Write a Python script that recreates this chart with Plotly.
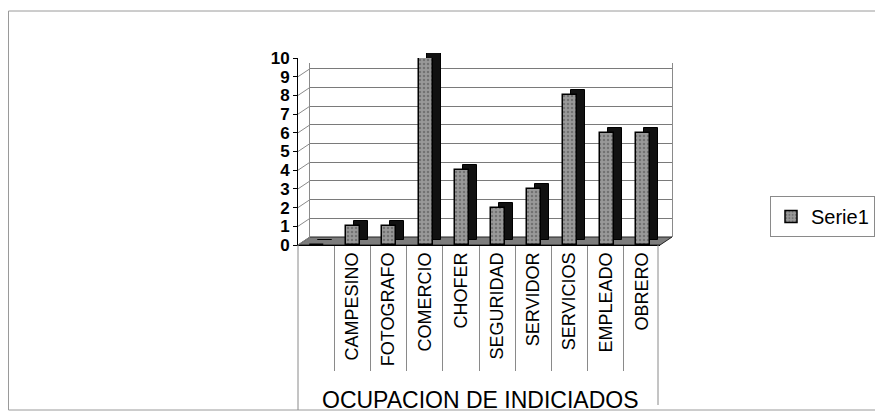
import plotly.graph_objects as go

# ---- data ----
categories = ["", "CAMPESINO", "FOTOGRAFO", "COMERCIO", "CHOFER", "SEGURIDAD",
              "SERVIDOR", "SERVICIOS", "EMPLEADO", "OBRERO"]
values = [0, 1, 1, 10, 4, 2, 3, 8, 6, 6]
y_ticks = list(range(0, 11))
series_name = "Serie1"
axis_title = "OCUPACION DE INDICIADOS"

# ---- geometry (target-window pixels; page body has an 8px margin) ----
OFF = 8
W, H = 883 - OFF, 414 - OFF
def px(x): return (x - OFF) / W
def py(y): return 1 - (y - OFF) / H

UNIT = 18.7            # px per unit on value axis
FX0, FX1 = 298, 660    # front floor edge
FY0 = 245              # front zero line
BDX, BDY = 12, 8       # back-wall offset
DDX, DDY = 8, 5        # bar depth offset
YMAX = 10
WALL_TOP = 9.3
BAR_W, BAR_OFF = 0.39, -0.17

idx = list(range(len(categories)))
xr = [-0.5, len(categories) - 0.5]
FONT = "Liberation Sans, Arial, sans-serif"

fig = go.Figure()

# back wall subplot (x, y) - dummy trace
fig.add_trace(go.Scatter(x=[xr[0], xr[1]], y=[0, 0], mode="none", hoverinfo="skip",
                         showlegend=False, xaxis="x", yaxis="y"))
# depth (side/top) of bars
fig.add_trace(go.Bar(x=idx, y=values, xaxis="x2", yaxis="y2", width=BAR_W, offset=BAR_OFF,
                     marker=dict(color="#111111", line=dict(color="#000000", width=1)),
                     showlegend=False, hoverinfo="skip"))
# front faces
fig.add_trace(go.Bar(x=idx, y=values, xaxis="x3", yaxis="y3", width=BAR_W, offset=BAR_OFF,
                     name=series_name,
                     marker=dict(color="#999999",
                                 pattern=dict(shape=".", fgcolor="#4a4a4a", size=4, solidity=0.3),
                                 line=dict(color="#000000", width=1.5))))
# dummy trace for table-line axis
fig.add_trace(go.Scatter(x=[xr[0], xr[1]], y=[0, 0], mode="none", hoverinfo="skip",
                         showlegend=False, xaxis="x4", yaxis="y3"))

front_xdom = [px(FX0), px(FX1)]
front_ydom = [py(FY0), py(FY0 - YMAX * UNIT)]

fig.update_layout(
    width=W, height=H, autosize=False,
    margin=dict(l=0, r=0, t=0, b=0, pad=0, autoexpand=False),
    paper_bgcolor="white", plot_bgcolor="rgba(0,0,0,0)",
    bargap=0, barmode="overlay",
    font=dict(family=FONT, color="black"),
    xaxis=dict(domain=[px(FX0 + BDX), px(FX1 + BDX)], range=xr, anchor="y",
               showgrid=False, zeroline=False, showticklabels=False, showline=False),
    yaxis=dict(domain=[py(FY0 - BDY), py(FY0 - BDY - WALL_TOP * UNIT)], range=[0, WALL_TOP],
               anchor="x", tickmode="array", tickvals=y_ticks[1:10], showticklabels=False,
               showgrid=True, gridcolor="#7a7a7a", gridwidth=1, zeroline=False,
               showline=True, linecolor="#8a8a8a", linewidth=1, mirror=True),
    xaxis2=dict(domain=[px(FX0 + DDX), px(FX1 + DDX)], range=xr, anchor="y2",
                showgrid=False, zeroline=False, showticklabels=False, showline=False),
    yaxis2=dict(domain=[py(FY0 - DDY), py(FY0 - DDY - YMAX * UNIT)], range=[0, YMAX], anchor="x2",
                showgrid=False, zeroline=False, showticklabels=False, showline=False),
    xaxis3=dict(domain=front_xdom, range=xr, anchor="y3", tickmode="array", tickvals=idx,
                ticktext=categories, tickangle=-90, ticks="", showgrid=False, zeroline=False,
                showline=False, ticklabelstandoff=3,
                tickfont=dict(size=18, family=FONT, color="black")),
    yaxis3=dict(domain=front_ydom, range=[0, YMAX], anchor="x3", tickmode="array", tickvals=y_ticks,
                showgrid=False, zeroline=False, showline=True, linecolor="#000000", linewidth=1,
                ticks="outside", ticklen=4, tickcolor="#000000",
                tickfont=dict(size=17, family=FONT, color="black", weight="bold")),
    xaxis4=dict(domain=front_xdom, range=xr, anchor="y3", tickmode="array",
                tickvals=[i + 0.5 for i in idx[:-1]], ticks="outside", ticklen=125,
                tickcolor="#8a8a8a", tickwidth=1, showticklabels=False, showgrid=False,
                zeroline=False, showline=True, linecolor="#000000", linewidth=1),
    legend=dict(x=px(770), y=py(196), xanchor="left", yanchor="top",
                bordercolor="#8a8a8a", borderwidth=1, bgcolor="white", itemwidth=30,
                font=dict(size=20, family=FONT, color="black")),
    showlegend=True,
)

shapes = []
# outer border
shapes.append(dict(type="rect", xref="paper", yref="paper", x0=px(8.5), x1=px(877), y0=py(410), y1=py(11),
                   line=dict(color="#9a9a9a", width=1), layer="below"))
# floor
shapes.append(dict(type="path", xref="paper", yref="paper", layer="below",
                   path=f"M {px(FX0)} {py(FY0)} L {px(FX1)} {py(FY0)} L {px(FX1 + BDX)} {py(FY0 - BDY)} "
                        f"L {px(FX0 + BDX)} {py(FY0 - BDY)} Z",
                   fillcolor="#7d7d7d", line=dict(color="#222222", width=1)))
# side-wall diagonals
for v in y_ticks[:10]:
    shapes.append(dict(type="line", xref="paper", yref="paper",
                       x0=px(FX0), y0=py(FY0 - v * UNIT), x1=px(FX0 + BDX), y1=py(FY0 - BDY - v * UNIT),
                       line=dict(color="#8a8a8a", width=1), layer="below"))
# table outer verticals
shapes.append(dict(type="line", xref="paper", yref="paper", x0=px(FX0), x1=px(FX0), y0=py(FY0), y1=py(410),
                   line=dict(color="#8a8a8a", width=1)))
shapes.append(dict(type="line", xref="paper", yref="paper", x0=px(FX1 - 2), x1=px(FX1 - 2), y0=py(FY0), y1=py(405),
                   line=dict(color="#8a8a8a", width=1)))
fig.update_layout(shapes=shapes)

fig.add_annotation(text=axis_title, xref="paper", yref="paper", x=px(480), y=py(400),
                   showarrow=False, font=dict(size=23, family=FONT, color="black"),
                   xanchor="center", yanchor="middle")

fig.write_html("out.html")
